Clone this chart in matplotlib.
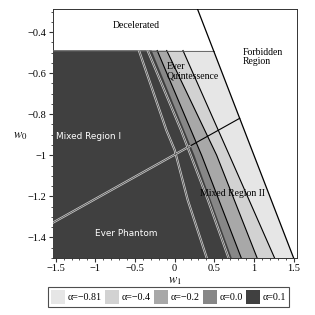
import matplotlib
matplotlib.use('Agg')
import matplotlib.pyplot as plt
from matplotlib.patches import Polygon, Patch
from matplotlib.ticker import MultipleLocator

plt.rcParams['font.family'] = ['Liberation Serif', 'DejaVu Serif']
plt.rcParams['mathtext.fontset'] = 'stix'

# alpha values and their shades (legend order)
alphas = ['α=−0.81', 'α=−0.4', 'α=−0.2', 'α=0.0', 'α=0.1']
shades = ['#e6e6e6', '#d2d2d2', '#a8a8a8', '#878787', '#404040']

# band boundaries: w1 positions at the w0 rows below
w0_rows = [-0.49, -1.0, -1.5]
edge_a04 = [0.105, 0.69, 1.26]   # end of alpha=-0.4 region
edge_a02 = [-0.10, 0.53, 1.04]   # end of alpha=-0.2 region
edge_a00 = [-0.22, 0.34, 0.84]   # end of alpha=0.0 region
edge_a01 = [-0.29, 0.25, 0.72]   # end of alpha=0.1 region (dark)

# forbidden region boundary w0 + w1 = 0
forb_w0 = [-0.2, -1.6]
forb_w1 = [0.2, 1.6]

# crossing line
cross_w1 = [-1.6, 0.82]
cross_w0 = [-1.342, -0.82]

# thin lines inside the dark region
lineA_w1 = [-0.45, -0.105, 0.0, 0.165, 0.405]
lineA_w0 = [-0.49, -0.877, -0.974, -1.218, -1.5]
lineB_w1 = [-0.34, 0.08, 0.42, 0.68]
lineB_w0 = [-0.49, -0.877, -1.218, -1.5]

top_w0 = -0.49
left = -1.7

fig = plt.figure(figsize=(3.15, 3.15), dpi=100)
ax = fig.add_axes([0.1667, 0.181, 0.7755, 0.789])


def region(edge):
    verts = [(left, top_w0)] + list(zip(edge, w0_rows))
    verts += [(edge[-1] + 0.1, w0_rows[-1] - 0.1), (left, w0_rows[-1] - 0.1)]
    return verts


# lightest region is bounded by the forbidden line
forb_edge = [-w for w in w0_rows]
edges = [forb_edge, edge_a04, edge_a02, edge_a00, edge_a01]
patches = []
for i, (edge, col) in enumerate(zip(edges, shades)):
    p = Polygon(region(edge), closed=True, facecolor=col, edgecolor='none', zorder=1 + i)
    ax.add_patch(p)
    patches.append(p)
dark = patches[-1]

# black contour lines in the light bands
for edge in [edge_a04, edge_a02, edge_a00]:
    ax.plot(edge, w0_rows, color='black', lw=0.8, zorder=7)
ax.plot([left, 0.49], [top_w0, top_w0], color='#555555', lw=0.6, zorder=7)
ax.plot(forb_w1, forb_w0, color='black', lw=0.9, zorder=8)

# crossing line: black over the light bands, double white over the dark
ax.plot(cross_w1, cross_w0, color='black', lw=0.8, zorder=7)
for xs, ys in [(cross_w1, cross_w0), (lineA_w1, lineA_w0), (lineB_w1, lineB_w0)]:
    l1, = ax.plot(xs, ys, color='#d0d0d0', lw=1.6, zorder=9)
    l2, = ax.plot(xs, ys, color='#404040', lw=0.5, zorder=10)
    l1.set_clip_path(dark)
    l2.set_clip_path(dark)

ax.set_xlim(-1.54, 1.54)
ax.set_ylim(-1.5, -0.29)
ax.xaxis.set_major_locator(MultipleLocator(0.5))
ax.xaxis.set_minor_locator(MultipleLocator(0.1))
ax.yaxis.set_major_locator(MultipleLocator(0.2))
ax.yaxis.set_minor_locator(MultipleLocator(0.05))
ax.tick_params(which='both', direction='out', top=False, right=False, labelsize=7.5,
               color='#333333', pad=1.5)
ax.tick_params(which='major', length=3)
ax.tick_params(which='minor', length=1.5)
ax.xaxis.set_major_formatter(plt.FuncFormatter(lambda v, p: ('%g' % v).replace('-', '−')))
ax.yaxis.set_major_formatter(plt.FuncFormatter(lambda v, p: ('%g' % round(v, 2)).replace('-', '−')))
for s in ax.spines.values():
    s.set_linewidth(0.7)
    s.set_color('#333333')

fig.text(175 / 315, 1 - 281 / 315, '$w_1$', fontsize=9, ha='center', va='center')
fig.text(20 / 315, 1 - 136 / 315, '$w_0$', fontsize=9, ha='center', va='center')

ax.text(-0.48, -0.37, 'Decelerated', fontsize=7, ha='center', va='center', zorder=12)
ax.text(0.86, -0.52, 'Forbidden\nRegion', fontsize=7, ha='left', va='center',
        linespacing=1.0, zorder=12)
ax.text(-0.10, -0.59, 'Ever\nQuintessence', fontsize=7, ha='left', va='center',
        linespacing=1.0, zorder=12)
ax.text(0.73, -1.185, 'Mixed Region II', fontsize=7, ha='center', va='center', zorder=12)
ax.text(-1.49, -0.91, 'Mixed Region I', fontsize=6.4, family='DejaVu Sans',
        color='white', ha='left', va='center', zorder=12)
ax.text(-0.61, -1.38, 'Ever Phantom', fontsize=6.4, family='DejaVu Sans',
        color='white', ha='center', va='center', zorder=12)

handles = [Patch(facecolor=c, edgecolor='none') for c in shades]
leg = fig.legend(handles, alphas, loc='center', bbox_to_anchor=(0.535, 0.057), ncol=5,
                 fontsize=7.2, frameon=True, fancybox=False, handlelength=1.4,
                 handleheight=1.9, handletextpad=0.3, columnspacing=0.3,
                 borderpad=0.3, borderaxespad=0)
leg.get_frame().set_edgecolor('#222222')
leg.get_frame().set_linewidth(0.8)

fig.savefig('out.png', dpi=100)
